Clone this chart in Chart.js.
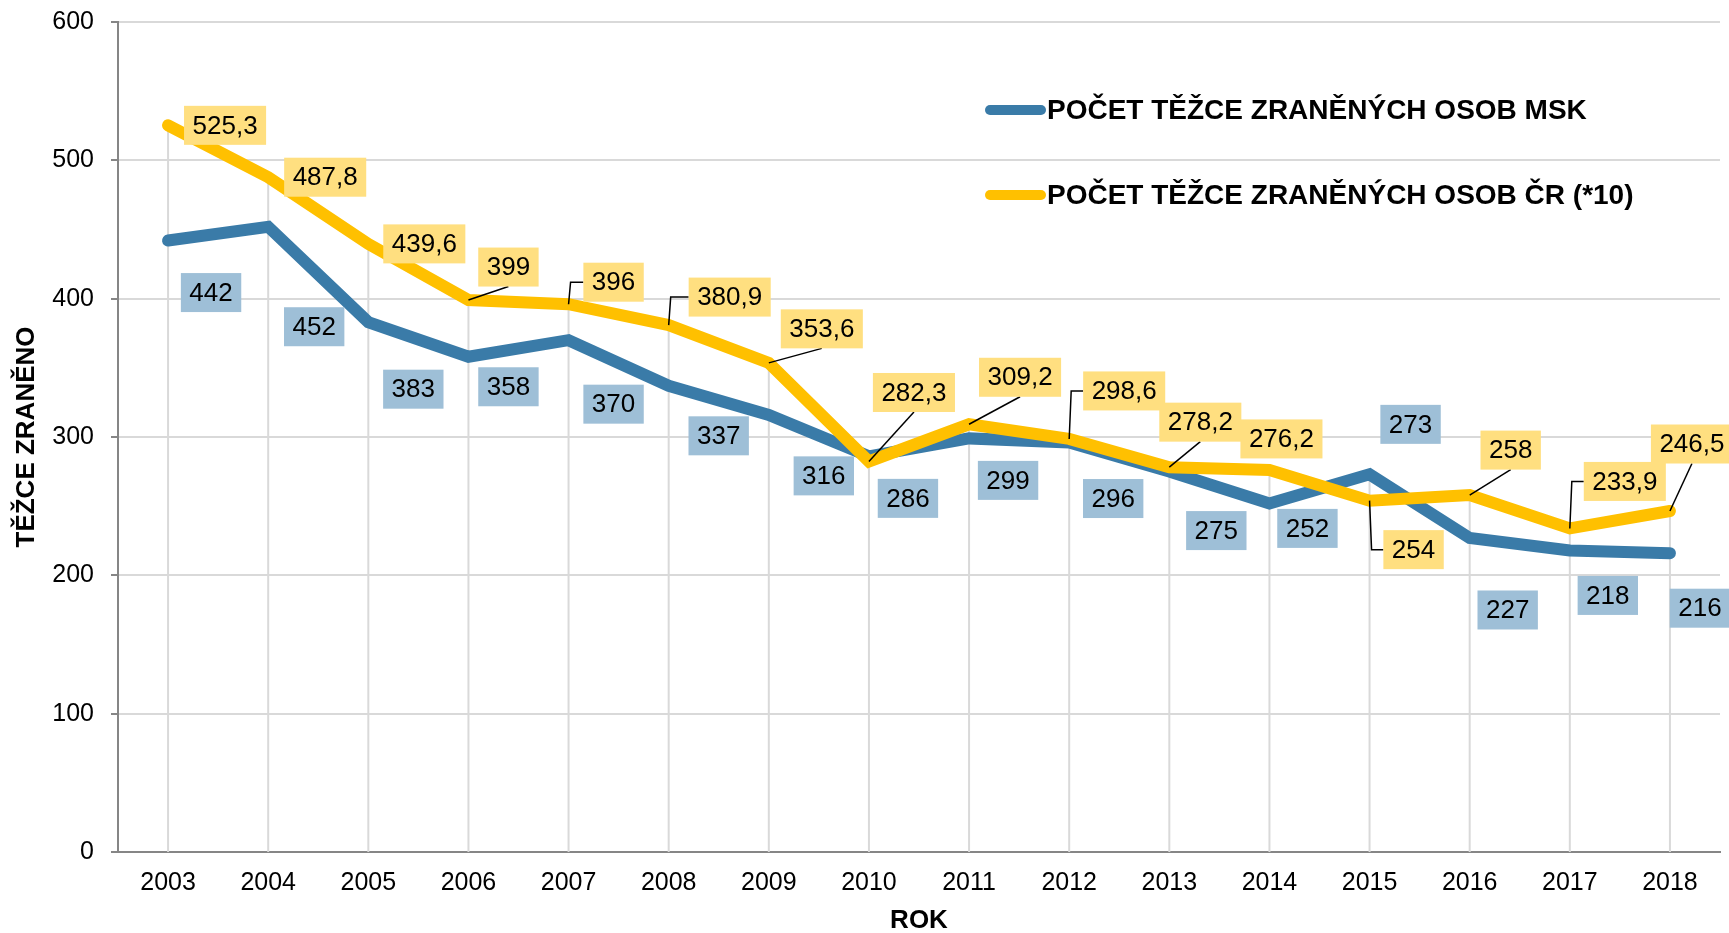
<!DOCTYPE html>
<html>
<head>
<meta charset="utf-8">
<script src="https://cdn.jsdelivr.net/npm/chart.js@4.4.1/dist/chart.umd.min.js"></script>
<style>
  body { margin: 0; background: #fff; }
  #wrap { width: 1729px; height: 933px; }
</style>
</head>
<body>
<div id="wrap"><canvas id="myChart"></canvas></div>
<script>
// data
const years = ["2003", "2004", "2005", "2006", "2007", "2008", "2009", "2010",
               "2011", "2012", "2013", "2014", "2015", "2016", "2017", "2018"];
const mskValues = [442, 452, 383, 358, 370, 337, 316, 286, 299, 296, 275, 252, 273, 227, 218, 216];
const crValues = [525.3, 487.8, 439.6, 399, 396, 380.9, 353.6, 282.3, 309.2, 298.6, 278.2, 276.2, 254, 258, 233.9, 246.5];
const yTicks = [0, 100, 200, 300, 400, 500, 600];
const mskLabel = 'POČET TĚŽCE ZRANĚNÝCH OSOB MSK';
const crLabel = 'POČET TĚŽCE ZRANĚNÝCH OSOB ČR (*10)';

// where each data label sits relative to its point (px), and how its leader goes
const mskLabelOffsets = [[43, 52], [46, 100], [45, 67], [40, 30], [45, 64], [50, 50], [55, 61], [39, 42],
                         [39, 42], [44, 56], [47, 59], [38, 25], [41, -50], [38, 72], [38, 45], [30, 55]];
const crLabelOffsets = [[57, 0], [57, 0], [56, 0], [40, -33], [45, -22], [61, -28], [53, -34], [45, -69],
                        [51, -47], [55, -48], [31, -45], [12, -31], [44, 49], [41, -45], [55, -47], [22, -67]];
const crLeaders = ['', '', '', 'line', 'elbow', 'elbow', 'line', 'line',
                   'line', 'elbow', 'line', '', 'elbow', 'line', 'elbow', 'line'];

const BLUE = '#3A7BA8';
const YELLOW = '#FFC000';
const FONT = '"Liberation Sans", Arial, sans-serif';

const fmt = v => String(v).replace('.', ',');

// vertical drop lines from the highest point down to the axis
const dropLines = {
    id: 'dropLines',
    beforeDatasetsDraw(chart) {
        const ctx = chart.ctx;
        const bottom = chart.chartArea.bottom;
        const metas = chart.getSortedVisibleDatasetMetas();
        ctx.save();
        ctx.strokeStyle = '#D9D9D9';
        ctx.lineWidth = 2;
        for (let i = 0; i < years.length; i++) {
            let top = bottom;
            let x = 0;
            metas.forEach(m => {
                const p = m.data[i];
                x = p.x;
                top = Math.min(top, p.y);
            });
            ctx.beginPath();
            ctx.moveTo(x, top);
            ctx.lineTo(x, bottom);
            ctx.stroke();
        }
        ctx.restore();
    }
};

// boxed data labels with leader lines
const boxLabels = {
    id: 'boxLabels',
    afterDatasetsDraw(chart) {
        const ctx = chart.ctx;
        ctx.save();
        ctx.font = '26px ' + FONT;
        ctx.textAlign = 'center';
        ctx.textBaseline = 'middle';
        chart.data.datasets.forEach((ds, di) => {
            const meta = chart.getDatasetMeta(di);
            meta.data.forEach((p, i) => {
                const txt = fmt(ds.data[i]);
                const off = ds.labelOffsets[i];
                const w = ctx.measureText(txt).width + 17;
                const h = 39;
                const cx = p.x + off[0];
                const cy = p.y + off[1];
                const kind = ds.leaders ? ds.leaders[i] : '';
                ctx.strokeStyle = '#000';
                ctx.lineWidth = 1.5;
                if (kind === 'line') {
                    ctx.beginPath();
                    ctx.moveTo(p.x, p.y);
                    ctx.lineTo(cx, cy + h / 2);
                    ctx.stroke();
                } else if (kind === 'elbow') {
                    ctx.beginPath();
                    ctx.moveTo(p.x, p.y);
                    ctx.lineTo(p.x + 2, cy);
                    ctx.lineTo(cx - w / 2, cy);
                    ctx.stroke();
                }
                ctx.fillStyle = ds.labelBg;
                ctx.fillRect(cx - w / 2, cy - h / 2, w, h);
                ctx.fillStyle = '#000';
                ctx.fillText(txt, cx, cy + 1);
            });
        });
        ctx.restore();
    }
};

// legend in the upper right of the plot
const sideLegend = {
    id: 'sideLegend',
    afterDraw(chart) {
        const ctx = chart.ctx;
        const rows = [[mskLabel, BLUE, 110], [crLabel, YELLOW, 195]];
        ctx.save();
        ctx.font = 'bold 28px ' + FONT;
        ctx.textAlign = 'left';
        ctx.textBaseline = 'middle';
        rows.forEach(r => {
            ctx.strokeStyle = r[1];
            ctx.lineWidth = 10;
            ctx.lineCap = 'round';
            ctx.beginPath();
            ctx.moveTo(990, r[2]);
            ctx.lineTo(1041, r[2]);
            ctx.stroke();
            ctx.fillStyle = '#000';
            ctx.fillText(r[0], 1047, r[2] + 1);
        });
        ctx.restore();
    }
};

const myChart = new Chart(document.getElementById('myChart'), {
    type: 'line',
    data: {
        labels: years,
        datasets: [{
            label: mskLabel,
            data: mskValues,
            borderColor: BLUE,
            backgroundColor: BLUE,
            borderWidth: 12,
            borderCapStyle: 'round',
            pointRadius: 0,
            tension: 0,
            order: 1,
            labelBg: '#9EBFD7',
            labelOffsets: mskLabelOffsets
        }, {
            label: crLabel,
            data: crValues,
            borderColor: YELLOW,
            backgroundColor: YELLOW,
            borderWidth: 12,
            borderCapStyle: 'round',
            pointRadius: 0,
            tension: 0,
            order: 0,
            labelBg: '#FFDF80',
            labelOffsets: crLabelOffsets,
            leaders: crLeaders
        }]
    },
    options: {
        responsive: true,
        maintainAspectRatio: false,
        animation: false,
        layout: { padding: { top: 22, right: 9, left: 0, bottom: 0 } },
        plugins: {
            legend: { display: false },
            tooltip: { enabled: false }
        },
        scales: {
            x: {
                offset: true,
                grid: { display: false, drawTicks: false },
                border: { display: true, color: '#868686', width: 2 },
                ticks: { color: '#000', padding: 16, font: { family: FONT, size: 25 } },
                title: {
                    display: true, text: 'ROK', color: '#000',
                    font: { family: FONT, size: 26, weight: 'bold', lineHeight: 0.9 },
                    padding: { top: 0, bottom: 0 }
                },
                afterFit(scale) { scale.height = 81; }
            },
            y: {
                min: 0,
                max: 600,
                afterBuildTicks(scale) { scale.ticks = yTicks.map(v => ({ value: v })); },
                grid: { color: '#D9D9D9', lineWidth: 2, tickLength: 7, tickColor: '#868686' },
                border: { display: true, color: '#868686', width: 2 },
                ticks: { color: '#000', padding: 17, font: { family: FONT, size: 25 } },
                title: {
                    display: true, text: 'TĚŽCE ZRANĚNO', color: '#000',
                    font: { family: FONT, size: 26, weight: 'bold' },
                    padding: { top: 11, bottom: 0 }
                },
                afterFit(scale) {
                    scale.width = 118;
                    scale.paddingTop = 0;
                    scale.paddingBottom = 0;
                }
            }
        }
    },
    plugins: [dropLines, boxLabels, sideLegend]
});
</script>
</body>
</html>
